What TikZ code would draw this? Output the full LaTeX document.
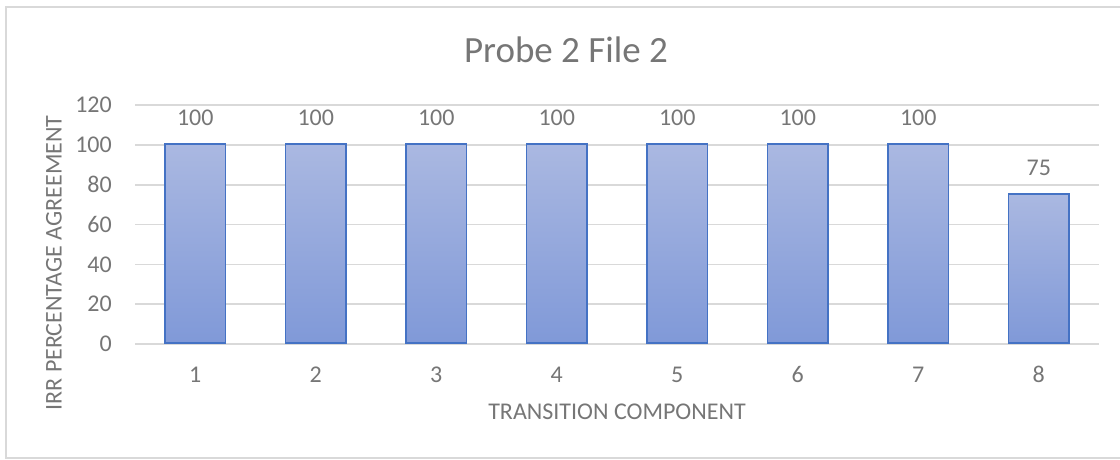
\documentclass[tikz,border=0pt]{standalone}
\usepackage{fontspec}
\setmainfont{Carlito}
\definecolor{txt}{HTML}{767676}
\definecolor{gridc}{HTML}{D9D9D9}
\definecolor{framec}{HTML}{D9D9D9}
\definecolor{barline}{HTML}{4472C4}
\definecolor{bartop}{HTML}{AAB8E1}
\definecolor{barbot}{HTML}{8099D8}
\begin{document}
\begin{tikzpicture}[x=1pt,y=-1pt,
  gridline/.style={draw=gridc,line width=1.6pt},
  lbl/.style={text=txt,font=\fontsize{24}{28}\selectfont,inner sep=0pt},
  ttl/.style={text=txt,font=\fontsize{37}{44}\selectfont,inner sep=0pt},
  barbox/.style={draw=barline,line width=1.6pt,top color=bartop,bottom color=barbot,minimum width=60.6pt,inner sep=0pt,anchor=south}]
\useasboundingbox (0,0) rectangle (1120,460);
\draw[draw=framec,line width=1.5pt] (1122,7) -| (6,458) -- (1122,458);
\node[ttl] (title) at (566,50) {Probe 2 File 2};
\foreach \i in {0,...,6}{
  \pgfmathsetmacro\yy{344-\i*39.8}
  \pgfmathtruncatemacro\vv{\i*20}
  \draw[gridline] (135,\yy) -- (1099,\yy);
  \node[lbl,anchor=east] (ytick\i) at (112,\yy) {\vv};
}
\foreach \k/\v in {1/100,2/100,3/100,4/100,5/100,6/100,7/100,8/75}{
  \pgfmathsetmacro\cx{195.3+120.5*(\k-1)}
  \pgfmathsetmacro\hh{\v*1.99}
  \node[barbox,minimum height=\hh pt] (bar\k) at (\cx,344) {};
  \node[lbl] (val\k) at ([yshift=25.5pt]bar\k.north) {\v};
  \node[lbl] (xtick\k) at (\cx,374.5) {\k};
}
\node[lbl] (xtitle) at (617,412) {TRANSITION COMPONENT};
\node[lbl,rotate=90] (ytitle) at (54,263) {IRR PERCENTAGE AGREEMENT};
\end{tikzpicture}
\end{document}
